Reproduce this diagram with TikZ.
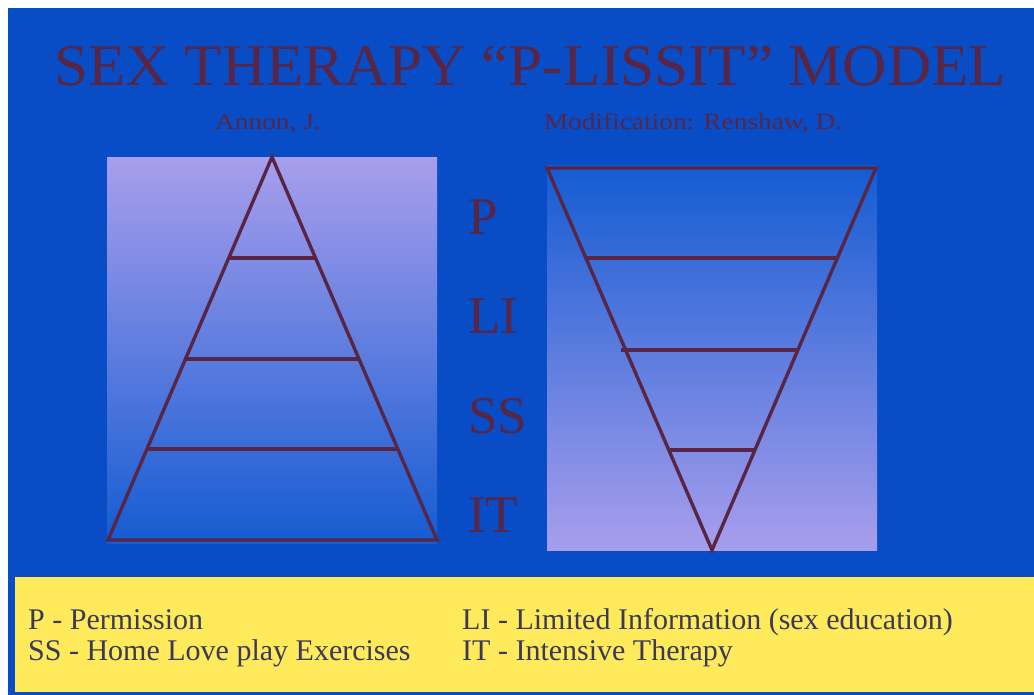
\documentclass[tikz,border=0pt]{standalone}
\usepackage{fontspec}
\setmainfont{Liberation Serif}
\usetikzlibrary{calc,positioning}

\definecolor{slideblue}{RGB}{8,76,198}
\definecolor{inkred}{RGB}{88,38,68}
\definecolor{lavender}{RGB}{168,158,236}
\definecolor{midblue}{RGB}{38,112,226}
\definecolor{deepblue}{RGB}{20,92,210}
\definecolor{notebg}{RGB}{255,234,92}
\definecolor{noteink}{RGB}{58,58,88}

\tikzset{
  tierline/.style={draw=inkred, line width=3.4pt, line join=miter},
  letterbox/.style={anchor=base west, inner sep=0pt, text=inkred, font=\fontsize{53}{56}\selectfont},
  authorbox/.style={anchor=base, inner sep=0pt, text=inkred, xscale=1.19, font=\fontsize{23}{25}\selectfont},
  notebox/.style={anchor=base west, inner sep=0pt, text=noteink, font=\fontsize{30}{32}\selectfont}
}

\begin{document}
\begin{tikzpicture}[x=1pt, y=-1pt]
        \useasboundingbox (0,0) rectangle (1034,695);
        \fill[white] (0,0) rectangle (1034,695);
        \fill[slideblue] (8,8) rectangle (1034,695);
        % title and authors
        \node[anchor=base, inner sep=0pt, text=inkred, xscale=1.035, font=\fontsize{59}{62}\selectfont] (title) at (530,86) {SEX THERAPY “P-LISSIT” MODEL};
        \node[authorbox] (annon) at (268,130) {Annon, J.};
        \node[authorbox] (renshaw) at (693,130) {Modification: Renshaw, D.};
        % panels
        \shade[top color=lavender, middle color=midblue, bottom color=deepblue] (107,158) rectangle (437,543);
        \shade[top color=deepblue, middle color=midblue, bottom color=lavender] (547,166) rectangle (877,550);
        % left pyramid
        \coordinate (lapex) at (272,157);
        \coordinate (lbl) at (108,540);
        \coordinate (lbr) at (437,540);
        \draw[tierline] (lapex) -- (lbr) -- (lbl) -- cycle;
        \draw[tierline] ($(lapex)!0.264!(lbl)$) -- ($(lapex)!0.264!(lbr)$);
        \draw[tierline] ($(lapex)!0.527!(lbl)$) -- ($(lapex)!0.527!(lbr)$);
        \draw[tierline] ($(lapex)!0.762!(lbl)$) -- ($(lapex)!0.762!(lbr)$);
        % right pyramid, upside down
        \coordinate (rapex) at (712,550);
        \coordinate (rtl) at (547,168);
        \coordinate (rtr) at (876,168);
        \draw[tierline] (rapex) -- (rtl) -- (rtr) -- cycle;
        \draw[tierline] ($(rapex)!0.764!(rtl)$) -- ($(rapex)!0.764!(rtr)$);
        \draw[tierline] ($(rapex)!0.524!(rtl)+(-5,0)$) -- ($(rapex)!0.524!(rtr)$);
        \draw[tierline] ($(rapex)!0.262!(rtl)$) -- ($(rapex)!0.262!(rtr)$);
        % level letters
        \node[letterbox] (lp) at (468,235) {P};
        \node[letterbox] (lli) at (468,334) {LI};
        \node[letterbox] (lss) at (468,433) {SS};
        \node[letterbox] (lit) at (468,532) {IT};
        % legend
        \fill[notebg] (15,577) rectangle (1034,692);
        \node[notebox] (keyp) at (28,629) {P - Permission};
        \node[notebox] (keyss) at (28,660) {SS - Home Love play Exercises};
        \node[notebox] (keyli) at (462,629) {LI - Limited Information (sex education)};
        \node[notebox] (keyit) at (462,660) {IT - Intensive Therapy};
    \end{tikzpicture}
\end{document}
